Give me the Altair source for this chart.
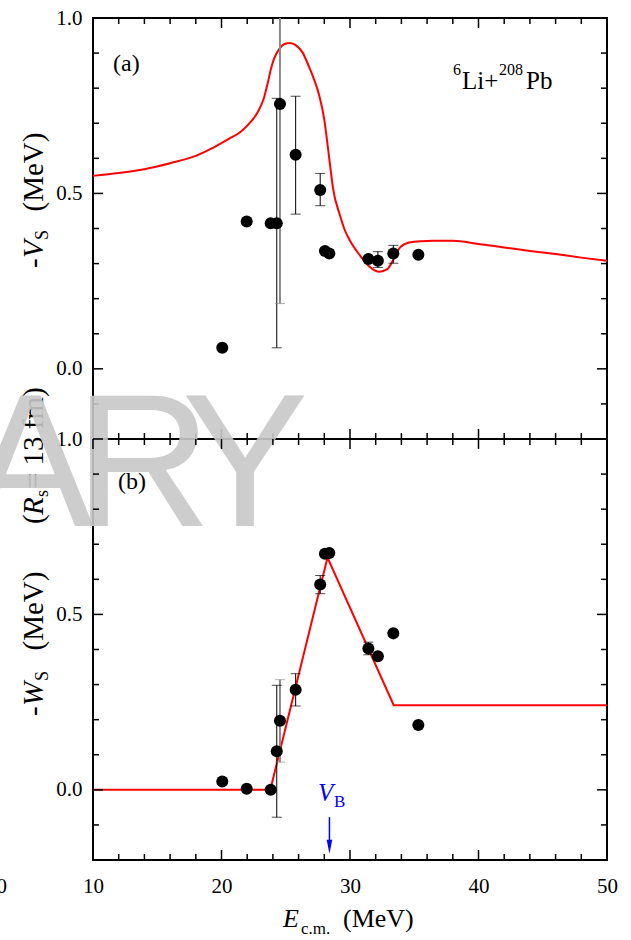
import altair as alt
import pandas as pd

# ---------------- data ----------------
E_exp = [20.06, 21.96, 23.83, 24.30, 24.55, 25.77, 27.68, 28.05, 28.39, 31.43, 32.17, 33.37, 35.32]
VS_exp = [0.060, 0.420, 0.415, 0.415, 0.755, 0.610, 0.510, 0.336, 0.329, 0.313, 0.308, 0.329, 0.325]
WS_exp = [0.024, 0.003, 0.000, 0.110, 0.197, 0.285, 0.585, 0.673, 0.675, 0.403, 0.381, 0.446, 0.185]

VS_err_E = [24.30, 24.55, 25.77, 27.68, 32.17, 33.37]
VS_err_lo = [0.060, 0.186, 0.441, 0.465, 0.289, 0.301]
VS_err_hi = [0.771, 1.324, 0.777, 0.557, 0.334, 0.352]
VS_err_grey = [False, True, False, False, False, False]

WS_err_E = [24.30, 24.55, 25.77, 27.68, 31.43]
WS_err_lo = [-0.078, 0.079, 0.239, 0.559, 0.385]
WS_err_hi = [0.298, 0.314, 0.331, 0.611, 0.421]
WS_err_grey = [False, True, False, False, False]

curve_E = [10, 12, 14, 16, 18, 19.4, 20.5, 21.5, 22.3, 22.9, 23.3, 23.6, 23.85, 24.1, 24.5,
           24.9, 25.33, 25.8, 26.3, 26.8, 27.2, 27.6, 28.0, 28.2, 28.45, 28.7, 29.2, 29.6,
           30.0, 30.8, 31.5, 32.3, 32.9, 33.4, 33.9, 34.6, 35.5, 36.5, 38.0, 40.0, 42.0,
           44.0, 46.0, 48.0, 50.0]
curve_V = [0.550, 0.558, 0.569, 0.586, 0.607, 0.631, 0.654, 0.676, 0.705, 0.737, 0.772,
           0.815, 0.855, 0.885, 0.912, 0.926, 0.929, 0.922, 0.902, 0.862, 0.825, 0.780,
           0.710, 0.655, 0.580, 0.510, 0.440, 0.395, 0.365, 0.322, 0.292, 0.277, 0.284,
           0.313, 0.346, 0.360, 0.364, 0.365, 0.365, 0.356, 0.346, 0.336, 0.327, 0.317, 0.308]

lineW_E = [10, 23.8, 28.25, 33.4, 50]
lineW_W = [0.0, 0.0, 0.662, 0.241, 0.241]

VB = 28.4
VB_arrow = [-0.078, -0.150, -0.162]   # shaft top, shaft bottom, head centre

x_major = [10, 20, 30, 40, 50]
x_minor = [12, 14, 16, 18, 22, 24, 26, 28, 32, 34, 36, 38, 42, 44, 46, 48]
y_major = [0.0, 0.5, 1.0]
y_minor = [-0.1, 0.1, 0.2, 0.3, 0.4, 0.6, 0.7, 0.8, 0.9]

# ---------------- layout ----------------
W, H = 514, 421
FONT = "Liberation Serif"
TS = 29  # rotated axis-title font size

xs = alt.Scale(domain=[10, 50], nice=False, zero=False)
ys_a = alt.Scale(domain=[-0.2, 1.0], nice=False, zero=False, clamp=True)
ys_b = alt.Scale(domain=[-0.2, 1.0], nice=False, zero=False, clamp=True)

ax_y = alt.Axis(values=y_major, format=".1f", labelPadding=11, ticks=False, tickSize=0,
                domain=False, grid=False, labelFont=FONT, labelFontSize=21,
                labelColor="black", labelFlush=False, labelOverlap=False, title=None)
ax_x = alt.Axis(values=x_major, format="d", labelPadding=15, ticks=False, tickSize=0,
                domain=False, grid=False, labelFont=FONT, labelFontSize=21,
                labelColor="black", labelFlush=False, labelOverlap=False, title=None)

one = pd.DataFrame({"k": [0]})


def label(text, x, y, size, style="normal", angle=0, color="black", align="left",
          font=FONT, opacity=1.0):
    return alt.Chart(one).mark_text(
        text=text, font=font, fontSize=size, fontStyle=style, angle=angle, color=color,
        align=align, baseline="alphabetic", opacity=opacity
    ).encode(x=alt.value(x), y=alt.value(y))


def err_frames(Es, lo, hi, grey):
    bars = pd.DataFrame({"E": Es, "lo": lo, "hi": hi,
                         "col": ["#8a8a8a" if g else "black" for g in grey],
                         "sw": [2.0 if g else 1.0 for g in grey]})
    rows = []
    for e, l, h, g in zip(Es, lo, hi, grey):
        for v in (l, h):
            if -0.2 <= v <= 1.0:
                rows.append({"E": e, "v": v, "col": "#8a8a8a" if g else "black"})
    return bars, pd.DataFrame(rows)


def panel(ys, xaxis, curve_df, curve_interp, pts_df, bars, caps, extra_before, extra_after):
    def X(f):
        return alt.X(f, type="quantitative", scale=xs, axis=xaxis)

    def Y(f):
        return alt.Y(f, type="quantitative", scale=ys, axis=ax_y)

    layers = list(extra_before)
    layers.append(alt.Chart(curve_df).mark_line(color="#ff0000", strokeWidth=2,
                                                interpolate=curve_interp)
                  .encode(x=X("E"), y=Y("v")))
    layers.append(alt.Chart(bars).mark_rule()
                  .encode(x=X("E"), y=Y("lo"), y2=alt.Y2("hi"),
                          color=alt.Color("col:N", scale=None),
                          strokeWidth=alt.StrokeWidth("sw:Q", scale=None)))
    layers.append(alt.Chart(caps).mark_tick(orient="horizontal", size=10, thickness=1)
                  .encode(x=X("E"), y=Y("v"), color=alt.Color("col:N", scale=None)))
    layers.append(alt.Chart(pts_df).mark_circle(size=145, color="black", opacity=1)
                  .encode(x=X("E"), y=Y("v")))
    # inward ticks on all four sides
    for vals, L in ((x_major, 10), (x_minor, 6)):
        base = alt.Chart(pd.DataFrame({"t": vals})).mark_rule(color="black", strokeWidth=1.5)
        layers.append(base.encode(x=X("t"), y=alt.value(H), y2=alt.value(H - L)))
        layers.append(base.encode(x=X("t"), y=alt.value(0), y2=alt.value(L)))
    for vals, L in ((y_major, 10), (y_minor, 6)):
        base = alt.Chart(pd.DataFrame({"t": vals})).mark_rule(color="black", strokeWidth=1.5)
        layers.append(base.encode(y=Y("t"), x=alt.value(0), x2=alt.value(L)))
        layers.append(base.encode(y=Y("t"), x=alt.value(W), x2=alt.value(W - L)))
    layers += list(extra_after)
    return alt.layer(*layers).properties(width=W, height=H)


# ---- panel (a) ----
bars_a, caps_a = err_frames(VS_err_E, VS_err_lo, VS_err_hi, VS_err_grey)
texts_a = [
    label("(a)", 20, 53, 24),
    label("6", 360, 57, 16),
    label("Li+", 369, 71, 25),
    label("208", 406, 57, 16),
    label("Pb", 433, 71, 25),
    label("-", -50, 250, TS, angle=270),
    label("V", -50, 240, TS, style="italic", angle=270),
    label("S", -45, 222, 18, angle=270),
    label("(MeV)", -50, 154, TS, angle=270, align="center"),
]
top = panel(ys_a, None,
            pd.DataFrame({"E": curve_E, "v": curve_V}), "monotone",
            pd.DataFrame({"E": E_exp, "v": VS_exp}), bars_a, caps_a, [], texts_a)

# ---- panel (b) ----
bars_b, caps_b = err_frames(WS_err_E, WS_err_lo, WS_err_hi, WS_err_grey)
WM = dict(font="Liberation Sans", color="#c8c8c8", opacity=0.9, align="center")
under_watermark = [
    label("(", -50, 85, TS, angle=270),
    label("R", -50, 76, TS, style="italic", angle=270),
    label("s", -45, 58, 18, angle=270),
    label(" = 13 fm)", -50, 50, TS, angle=270),
    label("A", -63, 87, 190, **WM),
    label("R", 50, 87, 190, **WM),
    label("Y", 152, 87, 190, **WM),
]


def Xb(f):
    return alt.X(f, type="quantitative", scale=xs, axis=ax_x)


def Yb(f):
    return alt.Y(f, type="quantitative", scale=ys_b, axis=ax_y)


arrow_df = pd.DataFrame({"E": [VB], "y1": [VB_arrow[0]], "y2": [VB_arrow[1]],
                         "yh": [VB_arrow[2]]})
arrow = [
    alt.Chart(arrow_df).mark_rule(color="#0000ff", strokeWidth=1.5)
    .encode(x=Xb("E"), y=Yb("y1"), y2=alt.Y2("y2")),
    alt.Chart(arrow_df).mark_point(shape="M-0.4,-1L0.4,-1L0,1Z", filled=True, size=196,
                                   color="#0000ff", opacity=1)
    .encode(x=Xb("E"), y=Yb("yh")),
]
texts_b = arrow + [
    label("(b)", 25, 50, 24),
    label("V", 225, 362, 25, style="italic", color="#0000ff"),
    label("B", 241, 368, 17, color="#0000ff"),
    label("-", -50, 277, TS, angle=270),
    label("W", -50, 267, TS, style="italic", angle=270),
    label("S", -45, 242, 18, angle=270),
    label("(MeV)", -50, 172, TS, angle=270, align="center"),
    label("E", 190, 488, 26, style="italic"),
    label("c.m.", 208, 495, 17),
    label("(MeV)", 250, 488, 26),
    label("0", -86, 454, 21, align="right"),
]
bottom = panel(ys_b, ax_x,
               pd.DataFrame({"E": lineW_E, "v": lineW_W}), "linear",
               pd.DataFrame({"E": E_exp, "v": WS_exp}), bars_b, caps_b,
               under_watermark, texts_b)

chart = (
    alt.vconcat(top, bottom, spacing=0, bounds="flush")
    .properties(padding={"left": -35, "top": 6, "right": 5, "bottom": 2}, background="white")
    .configure_view(stroke="black", strokeWidth=2)
)

chart.save("out.html", embed_options={"renderer": "svg", "actions": False})
